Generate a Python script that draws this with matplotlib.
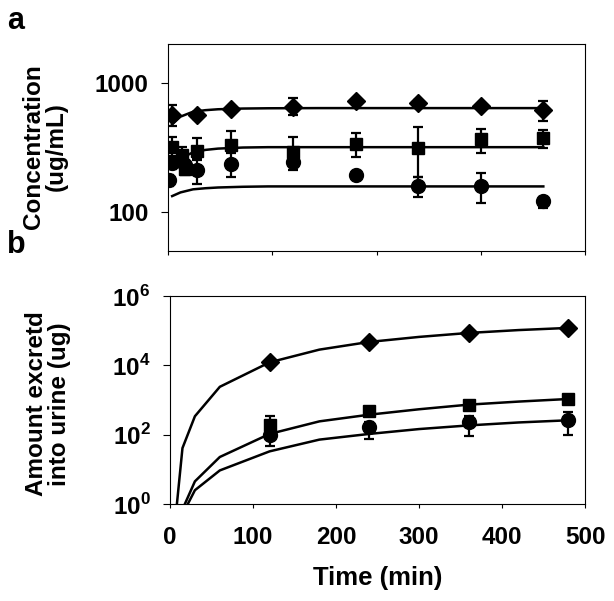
import numpy as np
import matplotlib
matplotlib.use("Agg")
import matplotlib.pyplot as plt
from matplotlib.ticker import FixedLocator, NullLocator, FixedFormatter

plt.rcParams['font.family'] = ['Liberation Sans', 'DejaVu Sans']
plt.rcParams['font.weight'] = 'bold'
plt.rcParams['mathtext.fontset'] = 'custom'
plt.rcParams['mathtext.rm'] = 'Liberation Sans:bold'
plt.rcParams['mathtext.bf'] = 'Liberation Sans:bold'

# ---- panel a: plasma concentration (ug/mL) ----
a_t_dia = [5, 35, 75, 150, 225, 300, 375, 450]
a_dia = [564, 560, 624, 653, 723, 701, 661, 615]
a_dia_lo = [464, 530, 610, 564, 700, 660, 640, 507]
a_dia_hi = [673, 590, 640, 759, 745, 740, 680, 726]

a_t_sq = [5, 17, 20, 35, 75, 150, 225, 300, 375, 450]
a_sq = [320, 275, 215, 297, 331, 294, 335, 316, 366, 373]
a_sq_lo = [270, 240, 195, 260, 290, 246, 266, 186, 289, 312]
a_sq_hi = [384, 321, 230, 375, 427, 384, 408, 458, 437, 432]

a_t_ci = [1, 5, 20, 35, 75, 150, 225, 300, 375, 450]
a_ci = [178, 239, 232, 212, 236, 242, 194, 160, 160, 121]
a_ci_lo = [160, 215, 210, 166, 186, 210, 185, 132, 117, 108]
a_ci_hi = [195, 262, 255, 253, 286, 261, 203, 186, 200, 132]

# model fits, panel a
a_fit_t = [5, 15, 30, 45, 60, 90, 120, 180, 240, 300, 360, 450]
a_fit_dia = [478, 548, 598, 615, 625, 633, 636, 638, 638, 638, 638, 638]
a_fit_sq = [225, 260, 290, 303, 310, 316, 318, 318, 318, 318, 318, 318]
a_fit_ci = [133, 142, 150, 153, 155, 157, 158, 158, 158, 158, 158, 158]

# ---- panel b: cumulative amount excreted into urine (ug) ----
b_t = [120, 240, 360, 480]
b_dia = [12200, 47300, 86000, 120000]
b_sq = [195, 493, 735, 1070]
b_sq_lo = [120, 420, 650, 950]
b_sq_hi = [353, 560, 800, 1150]
b_ci = [100, 162, 226, 271]
b_ci_lo = [48, 75, 89, 100]
b_ci_hi = [160, 230, 353, 440]

# model fits, panel b
b_fit_t = [0, 15, 30, 60, 120, 180, 240, 300, 360, 420, 480]
b_fit_dia = [0.01, 41, 340, 2400, 12200, 28400, 47300, 66000, 86000, 104000, 120000]
b_fit_sq = [0.001, 0.7, 4.5, 22.7, 105, 242, 377, 540, 735, 900, 1070]
b_fit_ci = [0.001, 0.5, 2.5, 9.3, 33, 72, 105, 145, 185, 225, 260]


def yerr(v, lo, hi):
    v, lo, hi = np.array(v), np.array(lo), np.array(hi)
    return [v - lo, hi - v]


fig = plt.figure(figsize=(6.14, 6.01), dpi=100)
ax_a = fig.add_axes([0.2736, 0.5824, 0.6792, 0.3444])
ax_b = fig.add_axes([0.2769, 0.1614, 0.6759, 0.3461])

mk = dict(color='black', linestyle='none', elinewidth=1.6, capsize=3.5, capthick=1.6)

# panel a
for vals in (a_fit_dia, a_fit_sq, a_fit_ci):
    ax_a.plot(a_fit_t, vals, color='black', lw=1.8)
ax_a.errorbar(a_t_dia, a_dia, yerr=yerr(a_dia, a_dia_lo, a_dia_hi), marker='D', ms=9.5, **mk)
ax_a.errorbar(a_t_sq, a_sq, yerr=yerr(a_sq, a_sq_lo, a_sq_hi), marker='s', ms=9, **mk)
ax_a.errorbar(a_t_ci, a_ci, yerr=yerr(a_ci, a_ci_lo, a_ci_hi), marker='o', ms=10, **mk)

ax_a.set_yscale('log')
ax_a.set_ylim(50, 2000)
ax_a.set_xlim(0, 500)
ax_a.yaxis.set_major_locator(FixedLocator([100, 1000]))
ax_a.yaxis.set_major_formatter(FixedFormatter(['100', '1000']))
ax_a.yaxis.set_minor_locator(NullLocator())
ax_a.set_xticks([0, 125, 250, 375, 500])
ax_a.set_xticklabels([])

# panel b
for vals in (b_fit_dia, b_fit_sq, b_fit_ci):
    ax_b.plot(b_fit_t, vals, color='black', lw=1.8)
ax_b.errorbar(b_t, b_dia, marker='D', ms=9.5, **mk)
ax_b.errorbar(b_t, b_sq, yerr=yerr(b_sq, b_sq_lo, b_sq_hi), marker='s', ms=9, **mk)
ax_b.errorbar(b_t, b_ci, yerr=yerr(b_ci, b_ci_lo, b_ci_hi), marker='o', ms=10, **mk)

ax_b.set_yscale('log')
ax_b.set_ylim(1, 1e6)
ax_b.set_xlim(0, 500)
ax_b.yaxis.set_major_locator(FixedLocator([1, 1e2, 1e4, 1e6]))
ax_b.yaxis.set_major_formatter(FixedFormatter([r'$10^{0}$', r'$10^{2}$', r'$10^{4}$', r'$10^{6}$']))
ax_b.yaxis.set_minor_locator(NullLocator())
ax_b.set_xticks([0, 100, 200, 300, 400, 500])
ax_b.set_xlabel('Time (min)', fontsize=18.5, fontweight='bold', labelpad=12)

for ax in (ax_a, ax_b):
    ax.tick_params(axis='y', direction='out', length=5, width=0.8, labelsize=17.5, pad=9)
    ax.tick_params(axis='x', direction='out', length=3, width=0.8, labelsize=17.5, pad=13)
    for s in ax.spines.values():
        s.set_linewidth(0.8)

# y axis titles, placed at fixed figure positions
fig.text(45 / 614, 1 - 147 / 601, 'Concentration\n(ug/mL)', rotation=90, ha='center', va='center',
         fontsize=17.5, fontweight='bold', linespacing=1.0)
fig.text(48 / 614, 1 - 404 / 601, 'Amount excretd\ninto urine (ug)', rotation=90, ha='center', va='center',
         fontsize=17.5, fontweight='bold', linespacing=1.0)

fig.text(0.012, 0.99, 'a', fontsize=22, fontweight='bold', va='top')
fig.text(0.012, 0.618, 'b', fontsize=22, fontweight='bold', va='top')

fig.savefig('out.png', dpi=100)
